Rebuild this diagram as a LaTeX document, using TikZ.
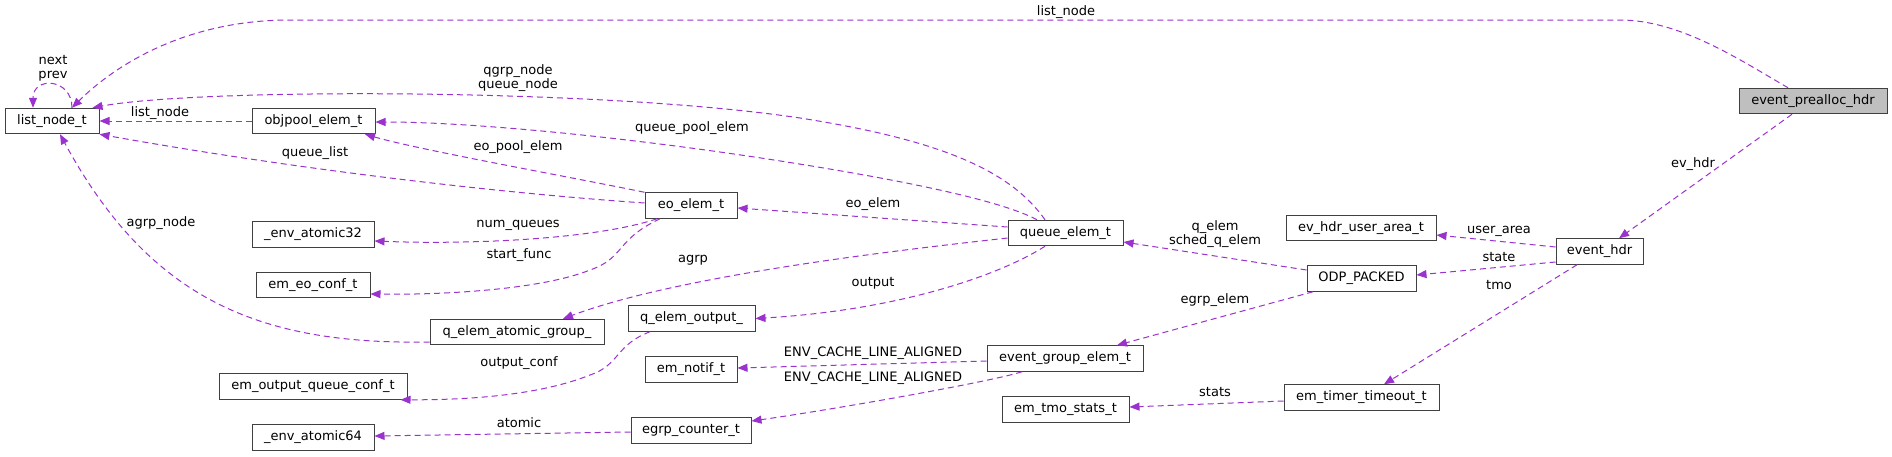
\documentclass[tikz,border=0pt]{standalone}
\usepackage{fontspec}
\setmainfont{DejaVu Sans}
\usetikzlibrary{arrows.meta}
\definecolor{edgec}{HTML}{9A32CD}
\definecolor{boxc}{HTML}{404040}
\definecolor{fillg}{HTML}{BFBFBF}
\begin{document}
\begin{tikzpicture}[x=1pt,y=-1pt,
  box/.style={draw=boxc,line width=1pt,inner sep=0pt,minimum height=25.5pt,font=\fontsize{13}{14}\selectfont,anchor=center},
  lbl/.style={inner sep=0pt,font=\fontsize{13}{14}\selectfont,align=center},
  rel/.style={draw=edgec,line width=1pt,dash pattern=on 6pt off 4pt,-{Triangle[length=10pt,width=8pt]}}]
\fill[white] (0,0) rectangle (1892,456);
\useasboundingbox (0,0) rectangle (1892,456);

% nodes
\node[box,minimum width=94pt]  (ln)   at (52,121)     {list\_node\_t};
\node[box,minimum width=123pt] (obj)  at (313.5,121)  {objpool\_elem\_t};
\node[box,minimum width=122pt] (a32)  at (313,234.5)  {\_env\_atomic32};
\node[box,minimum width=114pt] (eoc)  at (313,285)    {em\_eo\_conf\_t};
\node[box,minimum width=188pt] (oqc)  at (313,386.5)  {em\_output\_queue\_conf\_t};
\node[box,minimum width=122pt] (a64)  at (313,437.5)  {\_env\_atomic64};
\node[box,minimum width=174pt] (agrp) at (517,332)    {q\_elem\_atomic\_group\_};
\node[box,minimum width=92pt]  (eo)   at (691,205.5)  {eo\_elem\_t};
\node[box,minimum width=127pt] (qout) at (691.5,318.5) {q\_elem\_output\_};
\node[box,minimum width=92pt]  (ntf)  at (691,369.5)  {em\_notif\_t};
\node[box,minimum width=120pt] (egc)  at (691,430.5)  {egrp\_counter\_t};
\node[box,minimum width=115pt] (qe)   at (1065.5,233) {queue\_elem\_t};
\node[box,minimum width=156pt] (ege)  at (1065,358.5) {event\_group\_elem\_t};
\node[box,minimum width=127pt] (tms)  at (1065.5,409.5) {em\_tmo\_stats\_t};
\node[box,minimum width=150pt] (ua)   at (1361,228)   {ev\_hdr\_user\_area\_t};
\node[box,minimum width=109pt] (odp)  at (1361.5,278.5) {ODP\_PACKED};
\node[box,minimum width=155pt] (tto)  at (1361.5,397.5) {em\_timer\_timeout\_t};
\node[box,minimum width=87pt]  (eh)   at (1599.5,251.5) {event\_hdr};
\node[box,minimum width=148pt,fill=fillg] (eph) at (1813,101) {event\_prealloc\_hdr};

% connectors
\draw[rel] ([xshift=-25pt]eph.north) .. controls (1740,60) and (1680,20) .. (1620,20)
  -- (290,20) .. controls (180,20) and (110,70) .. ([xshift=20pt]ln.north);
\draw[rel] ([xshift=-21pt]eph.south) -- ([xshift=19.5pt]eh.north);
\draw[rel] ([yshift=4.5pt]eh.west) -- ([yshift=-7pt]ua.east);
\draw[rel] ([yshift=-10.5pt]eh.west) -- ([yshift=3.5pt]odp.east);
\draw[rel] ([xshift=-22.5pt]eh.south) -- ([xshift=22.5pt]tto.north);
\draw[rel] ([yshift=8.5pt]odp.west) -- ([yshift=-9pt]qe.east);
\draw[rel] ([xshift=-48.5pt]odp.south) -- ([xshift=52pt]ege.north);
\draw[rel] ([yshift=-3.5pt]tto.west) -- ([yshift=2.5pt]tms.east);
\draw[rel] ([yshift=-2.5pt]ege.west) -- ([yshift=1.5pt]ntf.east);
\draw[rel] ([xshift=-43pt]ege.south) .. controls (990,382) and (830,410) .. ([yshift=9.5pt]egc.east);
\draw[rel] ([yshift=-1.5pt]egc.west) -- ([yshift=1.5pt]a64.east);
\draw[rel] ([xshift=-20.5pt]qe.north) .. controls (1010,170) and (940,140) .. (800,118)
  .. controls (600,88) and (200,88) .. ([xshift=-7pt]ln.north east);
\draw[rel] ([xshift=-28.5pt]qe.north) .. controls (1000,200) and (900,180) .. (793,163)
  .. controls (650,140) and (480,122) .. ([yshift=-1pt]obj.east);
\draw[rel] ([yshift=6pt]qe.west) -- ([yshift=-2.5pt]eo.east);
\draw[rel] ([yshift=-5pt]qe.west) .. controls (900,250) and (680,275) .. ([xshift=46pt]agrp.north);
\draw[rel] ([xshift=-20.5pt]qe.south) .. controls (1000,275) and (900,310) .. (qout.east);
\draw[rel] ([yshift=2.5pt]eo.west) .. controls (500,193) and (300,170) .. (ln.south east);
\draw[rel] (eo.north west) .. controls (560,175) and (420,150) .. ([xshift=51.5pt]obj.south);
\draw[rel] ([xshift=-34pt]eo.south) .. controls (600,238) and (480,245) .. ([yshift=-6.5pt]a32.east);
\draw[rel] ([xshift=-31pt]eo.south) .. controls (615,240) and (625,258) .. (590,270)
  .. controls (540,290) and (440,295) .. ([yshift=-9pt]eoc.east);
\draw[rel] (obj.west) -- (ln.east);
\draw[rel] ([xshift=20pt]ln.north) .. controls (72,78) and (33,76) .. ([xshift=-19pt]ln.north);
\draw[rel] ([yshift=-10pt]agrp.west) .. controls (260,345) and (150,300) .. ([xshift=8pt]ln.south);
\draw[rel] ([xshift=-41.5pt]qout.south) .. controls (615,345) and (620,365) .. (590,375)
  .. controls (540,395) and (470,400) .. ([xshift=-7pt]oqc.south east);

% labels
\node[lbl] (l1)  at (1066,12)  {list\_node};
\node[lbl] (l2)  at (1693,164) {ev\_hdr};
\node[lbl] (l3)  at (1499,231) {user\_area};
\node[lbl] (l4)  at (1499,257) {state};
\node[lbl] (l5)  at (1499,285) {tmo};
\node[lbl] (l6)  at (1215,234) {q\_elem\\sched\_q\_elem};
\node[lbl] (l7)  at (1215,300) {egrp\_elem};
\node[lbl] (l8)  at (1215,392) {stats};
\node[lbl] (l9)  at (873,353)  {ENV\_CACHE\_LINE\_ALIGNED};
\node[lbl] (l10) at (873,378)  {ENV\_CACHE\_LINE\_ALIGNED};
\node[lbl] (l11) at (519,423)  {atomic};
\node[lbl] (l12) at (518,78)   {qgrp\_node\\queue\_node};
\node[lbl] (l13) at (692,128)  {queue\_pool\_elem};
\node[lbl] (l14) at (873,204)  {eo\_elem};
\node[lbl] (l15) at (693,260)  {agrp};
\node[lbl] (l16) at (873,283)  {output};
\node[lbl] (l17) at (315,153)  {queue\_list};
\node[lbl] (l18) at (518,147)  {eo\_pool\_elem};
\node[lbl] (l19) at (518,225)  {num\_queues};
\node[lbl] (l20) at (519,255)  {start\_func};
\node[lbl] (l21) at (160,113)  {list\_node};
\node[lbl] (l22) at (53,68)    {next\\prev};
\node[lbl] (l23) at (161,223)  {agrp\_node};
\node[lbl] (l24) at (519,363)  {output\_conf};
\end{tikzpicture}
\end{document}
